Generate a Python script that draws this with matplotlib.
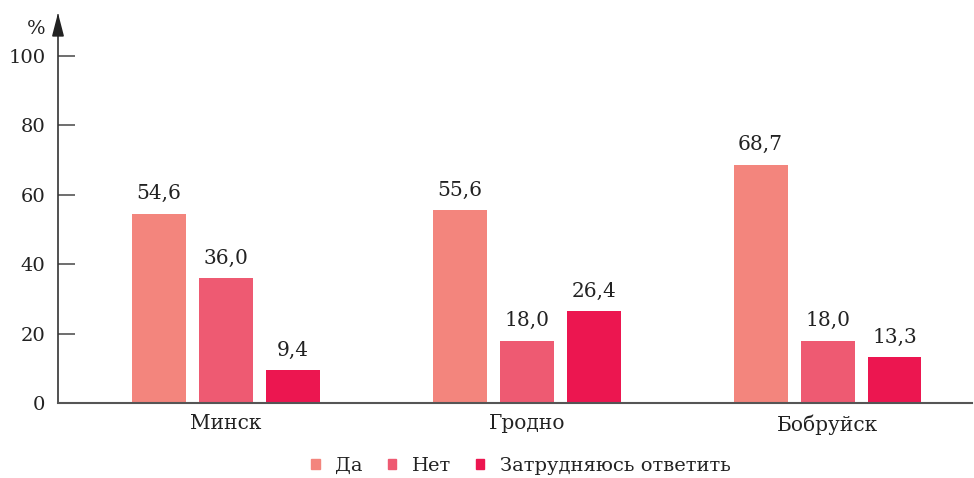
import numpy as np
import matplotlib.pyplot as plt
from matplotlib.patches import Patch

# Data
cities = ["Минск", "Гродно", "Бобруйск"]
series = ["Да", "Нет", "Затрудняюсь ответить"]
da = [54.6, 55.6, 68.7]
net = [36.0, 18.0, 18.0]
zatr = [9.4, 26.4, 13.3]
colors = ["#F3857D", "#EE5A72", "#EC1650"]

plt.rcParams['font.family'] = ['DejaVu Serif']
text_color = "#222222"

fig = plt.figure(figsize=(9.74, 4.78), dpi=100)
ax = fig.add_axes([58 / 974, 75 / 478, 914 / 974, 388 / 478])

x = np.arange(len(cities))
width = 0.179
offset = 0.2226

for i, (vals, col) in enumerate(zip([da, net, zatr], colors)):
    pos = x + (i - 1) * offset
    bars = ax.bar(pos, vals, width=width, color=col, label=series[i], zorder=2)
    for b, v in zip(bars, vals):
        ax.text(b.get_x() + b.get_width() / 2, v + 3, f"{v:.1f}".replace(".", ","),
                ha="center", va="bottom", fontsize=14.5, color=text_color)

ax.set_xlim(-0.558, 2.48)
ax.set_ylim(0, 111.8)
ax.set_yticks(range(0, 101, 20))
ax.set_xticks(x)
ax.set_xticklabels(cities)

for s in ["top", "right"]:
    ax.spines[s].set_visible(False)
ax.spines["left"].set_color("#333333")
ax.spines["bottom"].set_color("#555555")
ax.spines["left"].set_linewidth(1.2)
ax.spines["bottom"].set_linewidth(1.5)

ax.tick_params(axis="y", direction="in", length=12, width=1.2, color="#555555",
               labelsize=14, labelcolor=text_color, pad=9)
ax.tick_params(axis="x", length=0, labelsize=14.5, labelcolor=text_color, pad=8)

# arrow at top of y axis
ax.annotate("", xy=(0, 1.005), xytext=(0, 0.95), xycoords="axes fraction",
            arrowprops=dict(arrowstyle="-|>,head_length=1.0,head_width=0.26",
                            color="#222222", lw=1.2, mutation_scale=14,
                            shrinkA=0, shrinkB=0),
            annotation_clip=False)
ax.text(-0.014, 0.965, "%", transform=ax.transAxes, ha="right", va="center",
        fontsize=14, color=text_color)

handles = [Patch(color=c, label=s) for c, s in zip(colors, series)]
fig.legend(handles=handles, loc="center", bbox_to_anchor=(0.535, 0.025), ncol=3,
           frameon=False, fontsize=14, handlelength=0.42, handleheight=0.42,
           columnspacing=1.3, handletextpad=0.8, labelcolor=text_color)

fig.savefig("out.png", dpi=100)
